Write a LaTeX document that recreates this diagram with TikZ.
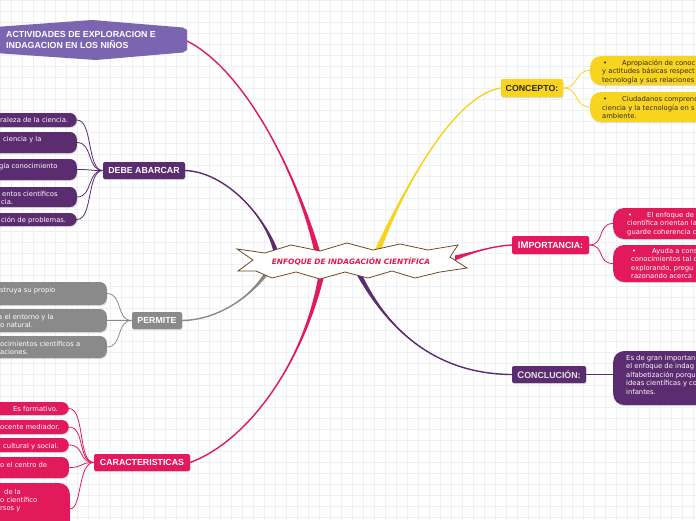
\documentclass[tikz,border=0pt]{standalone}
\usepackage{fontspec}
\setmainfont{Liberation Sans}
\newfontfamily\dv{DejaVu Sans}
\newfontfamily\dvbo{DejaVu Sans Bold Oblique}
\usetikzlibrary{calc,shadows}
\definecolor{purp}{HTML}{5B2C6F}
\definecolor{lav}{HTML}{7B65B0}
\definecolor{pink}{HTML}{E2195B}
\definecolor{gry}{HTML}{8A8A8A}
\definecolor{yel}{HTML}{F8D41F}
\definecolor{brn}{HTML}{6E4A1E}
\definecolor{cred}{HTML}{E8154D}
\definecolor{gridc}{HTML}{EEF0F3}
\definecolor{dark}{HTML}{2A2A2A}
\newcommand\taper[6]{%
  \fill[#1] ($(#2)+(#6)$) .. controls (#3) and (#4) .. (#5) .. controls (#4) and (#3) .. ($(#2)-(#6)$) -- cycle;
  \draw[#1,line width=1.4pt] (#2) .. controls (#3) and (#4) .. (#5);}
\tikzset{
  shad/.style={drop shadow={shadow xshift=0.6pt,shadow yshift=-1.2pt,opacity=0.25}},
  title/.style={rounded corners=2pt,minimum height=17pt,inner sep=0pt,shad,
    font=\fontsize{8.8}{10}\selectfont\bfseries,text=white},
  kid/.style={rounded corners=7pt,inner sep=0pt,shad},
  bigkid/.style={rounded corners=11pt,inner sep=0pt,shad},
  small/.style={font=\dv\fontsize{6.8}{8.5}\selectfont,inner sep=0pt,anchor=base west,text=white},
  link/.style={line width=0.8pt},
}
\begin{document}
\begin{tikzpicture}[x=1pt,y=-1pt]
\path[use as bounding box,clip] (0,0) rectangle (696,520);
\fill[white] (0,0) rectangle (696,520);
\foreach \x in {0,11,...,696} \draw[gridc,line width=0.4pt] (\x,0) -- (\x,520);
\foreach \y in {0,11,...,520} \draw[gridc,line width=0.4pt] (0,\y) -- (696,\y);

% ---------- title nodes ----------
\fill[lav] (-5,27) -- (92,20) -- (183,27.5) -- (187,30) -- (187,50) -- (183,52.5) -- (96,60) -- (-5,53) -- cycle;
\node[font=\fontsize{8.8}{10}\selectfont\bfseries,text=white,anchor=base west,inner sep=0pt] (act) at (6,37.7) {ACTIVIDADES DE EXPLORACION E};
\node[font=\fontsize{8.8}{10}\selectfont\bfseries,text=white,anchor=base west,inner sep=0pt] (act2) at (6,48.3) {INDAGACION EN LOS NIÑOS};
\coordinate (actR) at (187,41);

\node[title,fill=purp,minimum width=82pt] (debe) at (144,170.5) {DEBE ABARCAR};
\node[title,fill=gry,minimum width=50pt] (perm) at (157,320.5) {PERMITE};
\node[title,fill=pink,minimum width=96pt] (carac) at (142,462.5) {CARACTERISTICAS};
\node[title,fill=yel,text=dark,minimum width=62pt,minimum height=18pt] (conc) at (532,88) {CONCEPTO:};
\node[title,fill=pink,minimum width=77pt,minimum height=18pt] (imp) at (550.5,245) {{\fontsize{9.6}{10}\selectfont IM}PORTANCIA:};
\node[title,fill=purp,text=white!90!black,minimum width=74pt] (ccl) at (549,374.5) {{\fontsize{9.6}{10}\selectfont C}ONCLUCIÓN:};

% ---------- branch start points (under the star) ----------
\coordinate (s1) at (318,255);
\coordinate (s2) at (276,252);
\coordinate (s3) at (270,268);
\coordinate (s4) at (322,272);
\coordinate (s5) at (377,252);
\coordinate (s6) at (455,258);
\coordinate (s7) at (358,272);

\taper{pink}{s1}{298,175}{245,70}{actR}{3,0}
\taper{purp}{s2}{265,215}{225,172}{debe.east}{2.5,0}
\taper{gry}{s3}{250,300}{215,320}{perm.east}{2.1,1.3}
\taper{pink}{s4}{305,360}{250,440}{carac.east}{3,0}
\taper{yel}{s5}{405,185}{455,95}{conc.west}{2.8,0.8}
\taper{pink}{s6}{480,250}{495,246}{imp.west}{0,2.5}
\taper{purp}{s7}{390,335}{440,374}{ccl.west}{2.2,-1.1}

% ---------- central starburst ----------
\filldraw[fill=white,draw=brn,line width=0.8pt,line join=miter]
 (237,249) -- (265,253) -- (291,245) -- (320,251) -- (347,243) -- (373,250) -- (400,244) -- (428,250) -- (458,245)
 -- (450,257) -- (467,268) -- (440,272) -- (415,278) -- (392,271) -- (368,278) -- (345,272) -- (320,279)
 -- (296,272) -- (272,278) -- (256,271) -- (238,271) -- (253,260) -- cycle;
\node[font=\dvbo\fontsize{7.4}{9}\selectfont,text=cred,inner sep=0pt] (center) at (351,262) {ENFOQUE DE INDAGACIÓN CIENTÍFICA};

% ---------- DEBE ABARCAR children ----------
\node[kid,fill=purp,minimum width=110pt,minimum height=14pt,anchor=east] (d1) at (77,120) {};
\node[kid,fill=purp,minimum width=110pt,minimum height=21pt,anchor=east] (d2) at (77,142.5) {};
\node[kid,fill=purp,minimum width=110pt,minimum height=21pt,anchor=east] (d3) at (77,169.5) {};
\node[kid,fill=purp,minimum width=110pt,minimum height=20pt,anchor=east] (d4) at (77,197) {};
\node[kid,fill=purp,minimum width=110pt,minimum height=13pt,anchor=east] (d5) at (77,219.5) {};
\node[small] (d1a) at (0,122) {raleza de la ciencia.};
\node[small] (d2a) at (3,141) {ciencia y la};
\node[small] (d3a) at (-1,168) {gía conocimiento};
\node[small] (d4a) at (2,196) {entos científicos};
\node[small] (d4b) at (1,204.5) {cia.};
\node[small] (d5a) at (1,222.5) {ción de problemas.};
\foreach \c in {d1,d2,d3,d4,d5}
  \draw[link,purp] (debe.west) .. controls +(-16,0) and +(16,0) .. (\c.east);

% ---------- PERMITE children ----------
\node[kid,fill=gry,minimum width=130pt,minimum height=23pt,anchor=east] (p1) at (107,293.5) {};
\node[kid,fill=gry,minimum width=130pt,minimum height=23pt,anchor=east] (p2) at (107,320.5) {};
\node[kid,fill=gry,minimum width=130pt,minimum height=22pt,anchor=east] (p3) at (107,347) {};
\node[small] (p1a) at (0,292) {struya su propio};
\node[small] (p2a) at (-2,319) {a el entorno y la};
\node[small] (p2b) at (0,327.5) {o natural.};
\node[small] (p3a) at (0,346) {ocimientos científicos a};
\node[small] (p3b) at (0,354.5) {aciones.};
\foreach \c in {p1,p2,p3}
  \draw[link,gry] (perm.west) .. controls +(-16,0) and +(16,0) .. (\c.east);

% ---------- CARACTERISTICAS children ----------
\node[kid,fill=pink,minimum width=100pt,minimum height=13pt,anchor=east] (k1) at (69,408.5) {};
\node[kid,fill=pink,minimum width=100pt,minimum height=14pt,anchor=east] (k2) at (69,427) {};
\node[kid,fill=pink,minimum width=100pt,minimum height=14pt,anchor=east] (k3) at (69,445) {};
\node[kid,fill=pink,minimum width=100pt,minimum height=21pt,anchor=east] (k4) at (69,467.5) {};
\node[bigkid,fill=pink,minimum width=100pt,minimum height=52pt,anchor=east] (k5) at (70,509) {};
\node[small] (k1a) at (13,411) {Es formativo.};
\node[small] (k2a) at (0,429.5) {ocente mediador.};
\node[small] (k3a) at (3,448) {cultural y social.};
\node[small] (k4a) at (0,467) {o el centro de};
\node[small] (k5a) at (4,494) {de la};
\node[small] (k5b) at (0,502) {o científico};
\node[small] (k5c) at (0,510.5) {rsos y};
\draw[link,pink] (carac.west) .. controls +(-16,0) and +(16,0) .. (k1.east);
\draw[link,pink] (carac.west) .. controls +(-16,0) and +(16,0) .. (k2.east);
\draw[link,pink] (carac.west) .. controls +(-16,0) and +(16,0) .. (k3.east);
\draw[link,pink] (carac.west) .. controls +(-16,0) and +(16,0) .. (k4.east);
\draw[link,pink] (carac.west) .. controls +(-16,0) and +(12,0) .. (k5.east);

% ---------- CONCEPTO children ----------
\node[bigkid,fill=yel,minimum width=130pt,minimum height=29pt,anchor=west] (c1) at (590,70.5) {};
\node[bigkid,fill=yel,minimum width=130pt,minimum height=30pt,anchor=west] (c2) at (590,107) {};
\node[small,text=dark] (c1b) at (603,65) {•};
\node[small,text=dark] (c1a) at (622,65) {Apropiación de conoc};
\node[small,text=dark] (c1c) at (602,73.5) {y actitudes básicas respect};
\node[small,text=dark] (c1d) at (602,82) {tecnología y sus relaciones};
\node[small,text=dark] (c2b) at (603,101.5) {•};
\node[small,text=dark] (c2a) at (622,101.5) {Ciudadanos comprend};
\node[small,text=dark] (c2c) at (602,110) {ciencia y la tecnología en s};
\node[small,text=dark] (c2d) at (602,118.5) {ambiente.};
\foreach \c in {c1,c2}
  \draw[link,yel] (conc.east) .. controls +(16,0) and +(-16,0) .. (\c.west);

% ---------- IMPORTANCIA children ----------
\node[bigkid,fill=pink,minimum width=110pt,minimum height=31pt,anchor=west] (i1) at (613,223.5) {};
\node[bigkid,fill=pink,minimum width=110pt,minimum height=37pt,anchor=west] (i2) at (613,263.5) {};
\node[small] (i1b) at (628,217) {•};
\node[small] (i1a) at (647,217) {El enfoque de};
\node[small] (i1c) at (627,225.5) {científica orientan la};
\node[small] (i1d) at (627,234) {guarde coherencia c};
\node[small] (i2b) at (632,253) {•};
\node[small] (i2a) at (652,253) {Ayuda a cons};
\node[small] (i2c) at (631,261.5) {conocimientos tal c};
\node[small] (i2d) at (631,270) {explorando, pregu};
\node[small] (i2e) at (631,278.5) {razonando acerca};
\foreach \c in {i1,i2}
  \draw[link,pink] (imp.east) .. controls +(16,0) and +(-16,0) .. (\c.west);

% ---------- CONCLUCION child ----------
\node[bigkid,fill=purp,minimum width=110pt,minimum height=54pt,anchor=west] (cc) at (613,378) {};
\node[small] (cca) at (626,360) {Es de gran importan};
\node[small] (ccb) at (626,368.5) {el enfoque de indag};
\node[small] (ccc) at (626,377) {alfabetización porqu};
\node[small] (ccd) at (626,385.5) {ideas científicas y co};
\node[small] (cce) at (626,394) {infantes.};
\draw[link,purp] (ccl.east) -- (cc.west |- ccl.east);
\end{tikzpicture}
\end{document}
